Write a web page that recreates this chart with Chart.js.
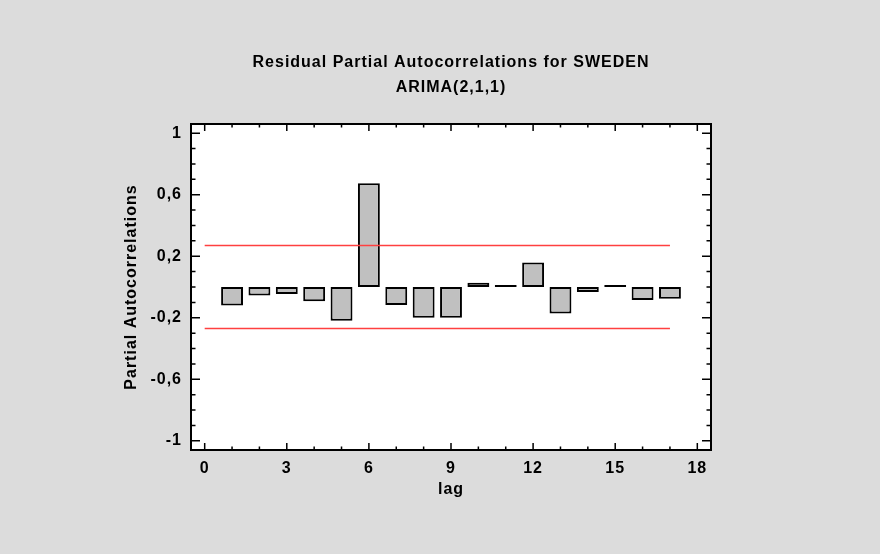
<!DOCTYPE html>
<html><head><meta charset="utf-8">
<script src="https://cdn.jsdelivr.net/npm/chart.js@4"></script>
<style>html,body{margin:0;padding:0;background:#dcdcdc;} canvas{display:block;}</style>
</head><body>
<canvas id="c" width="880" height="554"></canvas>
<script>
const lags = [1,2,3,4,5,6,7,8,9,10,11,12,13,14,15,16,17];
const pacf = [-0.12,-0.055,-0.046,-0.092,-0.219,0.675,-0.117,-0.2,-0.2,0.028,0.013,0.16,-0.173,-0.032,0.013,-0.084,-0.076];
const limitLags = [0, 17];
const upperLimit = [0.27, 0.27];
const lowerLimit = [-0.27, -0.27];
const xTickValues = [0,3,6,9,12,15,18];
const yTickValues = [-1,-0.6,-0.2,0.2,0.6,1];
const titleLines = ['Residual Partial Autocorrelations for SWEDEN', 'ARIMA(2,1,1)'];
const xTitle = 'lag';
const yTitle = 'Partial Autocorrelations';

const FONT = "'Liberation Sans', Arial, Helvetica, sans-serif";

const spacing = {
  id: 'spacing',
  beforeLayout(chart) { chart.ctx.letterSpacing = '1px'; },
  beforeDraw(chart) {
    const {ctx, chartArea: a} = chart;
    ctx.letterSpacing = '1px';
    ctx.save();
    ctx.fillStyle = '#dcdcdc';
    ctx.fillRect(0, 0, chart.width, chart.height);
    ctx.fillStyle = '#ffffff';
    ctx.fillRect(a.left, a.top, a.right - a.left, a.bottom - a.top);
    ctx.restore();
  },
  afterDraw(chart) {
    const {ctx, chartArea: a, scales} = chart;
    const xs = scales.x, ys = scales.y;
    ctx.save();
    ctx.strokeStyle = '#000';
    ctx.lineWidth = 1.5;
    ctx.beginPath();
    for (let v = 0; v <= 18; v++) {
      const px = xs.getPixelForValue(v);
      const len = v % 3 === 0 ? 7 : 3.5;
      ctx.moveTo(px, a.bottom); ctx.lineTo(px, a.bottom - len);
      ctx.moveTo(px, a.top); ctx.lineTo(px, a.top + len);
    }
    for (let i = -10; i <= 10; i++) {
      const py = ys.getPixelForValue(i / 10);
      const len = (i + 10) % 4 === 0 ? 9 : 4.5;
      ctx.moveTo(a.left, py); ctx.lineTo(a.left + len, py);
      ctx.moveTo(a.right, py); ctx.lineTo(a.right - len, py);
    }
    ctx.stroke();
    ctx.lineWidth = 2;
    ctx.strokeRect(a.left, a.top, a.right - a.left, a.bottom - a.top);
    ctx.restore();
  }
};

new Chart(document.getElementById('c'), {
  type: 'bar',
  data: {
    datasets: [
      {
        type: 'bar',
        data: lags.map((l, i) => ({x: l, y: pacf[i]})),
        backgroundColor: '#c0c0c0',
        borderColor: '#000000',
        borderWidth: 2,
        borderSkipped: false,
        barPercentage: 1,
        categoryPercentage: 0.8,
        order: 2
      },
      {
        type: 'line',
        data: limitLags.map((l, i) => ({x: l, y: upperLimit[i]})),
        borderColor: '#ff4040',
        borderWidth: 1.5,
        pointRadius: 0,
        fill: false,
        order: 1
      },
      {
        type: 'line',
        data: limitLags.map((l, i) => ({x: l, y: lowerLimit[i]})),
        borderColor: '#ff4040',
        borderWidth: 1.5,
        pointRadius: 0,
        fill: false,
        order: 1
      }
    ]
  },
  options: {
    responsive: false,
    animation: false,
    layout: { padding: { left: 0, right: 169, top: 0, bottom: 0 } },
    plugins: {
      legend: { display: false },
      tooltip: { enabled: false },
      title: {
        display: true,
        fullSize: false,
        text: titleLines,
        color: '#000',
        font: { family: FONT, size: 16, weight: 'bold', lineHeight: 1.55 },
        padding: { top: 50.3, bottom: 24.1 }
      }
    },
    scales: {
      x: {
        type: 'linear',
        min: -0.5, max: 18.5,
        offset: false,
        grid: { display: false, drawTicks: false },
        border: { display: false },
        afterBuildTicks: s => { s.ticks = xTickValues.map(v => ({value: v})); },
        afterFit: s => { s.height = 104; },
        ticks: {
          color: '#000',
          padding: 9,
          maxRotation: 0,
          autoSkip: false,
          font: { family: FONT, size: 16, weight: 'bold' },
          callback: v => String(v)
        },
        title: {
          display: true,
          text: xTitle,
          color: '#000',
          font: { family: FONT, size: 16, weight: 'bold' },
          padding: { top: 0, bottom: 54.4 }
        }
      },
      y: {
        type: 'linear',
        min: -1.06, max: 1.06,
        grid: { display: false, drawTicks: false },
        border: { display: false },
        afterBuildTicks: s => { s.ticks = yTickValues.map(v => ({value: v})); },
        afterFit: s => { s.width = 191; },
        ticks: {
          color: '#000',
          padding: 9,
          autoSkip: false,
          font: { family: FONT, size: 16, weight: 'bold' },
          callback: v => String(Math.round(v * 10) / 10).replace('.', ',')
        },
        title: {
          display: true,
          text: yTitle,
          color: '#000',
          font: { family: FONT, size: 16, weight: 'bold' },
          padding: { top: 122.4, bottom: 0 }
        }
      }
    }
  },
  plugins: [spacing]
});
</script>
</body></html>
